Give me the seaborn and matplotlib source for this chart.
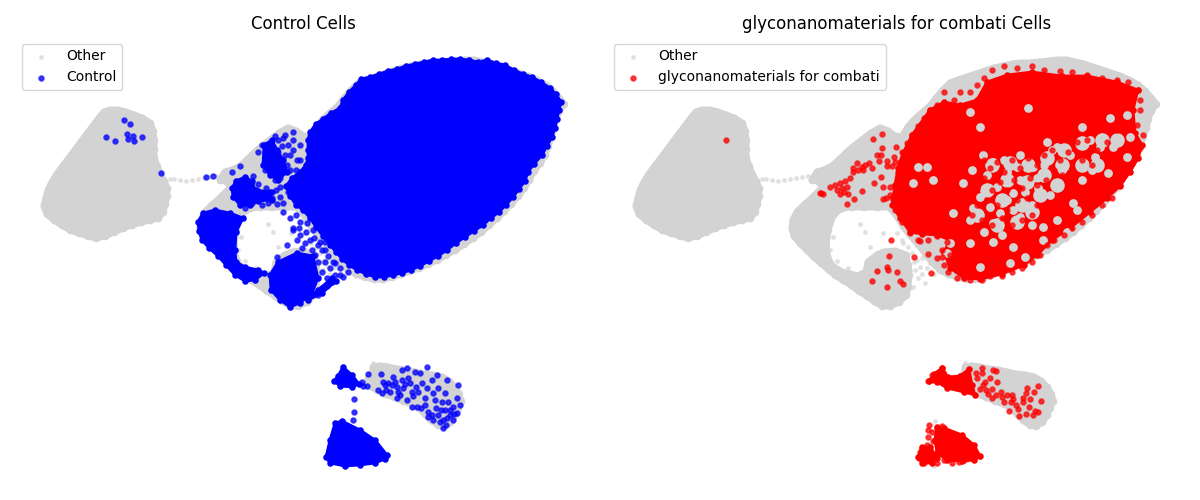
import numpy as np
import matplotlib
matplotlib.use("Agg")
import matplotlib.pyplot as plt
import seaborn as sns

TITLES = ["Control Cells", "glyconanomaterials for combati Cells"]
LABELS = ["Control", "glyconanomaterials for combati"]

# Embedding coordinates: outlines of the dense clouds, then single cells
other_island = [(110,110),(118,110),(126,112),(134,115),(142,118),(150,123),(153,131),(154,140),(154,149),(154,158),(157,166),
 (160,174),(164,181),(167,188),(167,196),(165,204),(163,212),(158,218),(150,220),(141,222),(132,225),(123,228),(114,232),
 (105,236),(96,238),(88,236),(79,233),(70,230),(62,225),(54,220),(47,214),(44,206),(46,198),(48,190),(52,182),(57,174),
 (63,166),(69,158),(75,150),(81,142),(87,134),(93,126),(99,118),(104,112)]

other_main = [(225,172),(232,170),(240,166),(247,160),(254,153),(262,146),(270,140),(279,133),(288,128),(296,131),(303,136),(310,137),
 (316,127),(322,120),(330,113),(338,106),(345,97),(351,90),(358,83),(366,80),(375,77),(384,74),(393,71),(402,68),(411,66),
 (420,64),(429,63),(438,63),(447,62),(456,61),(465,60),(474,60),(483,62),(492,64),(501,67),(510,70),(519,73),(528,76),
 (537,80),(546,85),(553,91),(559,98),(564,104),(559,111),(556,119),(554,128),(551,137),(548,146),(545,155),(540,163),
 (534,171),(529,180),(524,188),(518,196),(511,204),(504,211),(497,218),(489,225),(481,232),(473,238),(464,244),(455,250),
 (446,255),(437,260),(428,264),(419,268),(410,271),(401,274),(392,277),(383,279),(374,279),(365,277),(356,274),(348,270),
 (340,262),(333,253),(326,244),(318,235),(311,226),(305,216),(297,207),(285,207),(272,207),(260,207),(250,208),(241,215),
 (236,230),(234,245),(235,256),(240,266),(250,272),(258,274),(266,276),(274,272),(276,262),(285,255),(292,252),(303,251),
 (314,255),(316,265),(317,275),(316,287),(314,295),(307,302),(298,306),(290,306),(282,301),(275,296),(267,291),(259,285),
 (251,280),(243,275),(236,269),(229,263),(222,257),(215,250),(208,243),(202,236),(200,228),(201,220),(205,212),(212,205),
 (219,199),(225,193),(231,187),(226,181),(220,180)]

other_banana = [(373,367),(380,366),(388,367),(397,369),(406,370),(415,372),(424,374),(433,375),(442,377),(449,381),(455,387),(459,394),
 (461,401),(458,408),(455,415),(450,422),(444,426),(438,425),(431,420),(425,414),(419,408),(412,404),(403,401),(394,397),
 (385,394),(377,390),(370,386),(368,378),(373,372)]

other_sparse = [(170,179),(174,179),(180,180),(186,181),(192,180),(198,179),(204,178),(210,177),(216,176),(222,176),
 (268,224),(273,232),(291,233),(278,247),(241,237),(238,250),(245,261),(256,268),(305,233),(310,240),(323,270),(326,278),
 (321,287),(333,283),(315,260),(320,253),(325,260),(328,267),(338,263),(316,247),(311,243),(343,421),(342,466),(376,460),(373,363),
 (330,258),(335,268),(342,274),(322,262),(330,274),(318,270)]

control_ellipse = [(308,140),(310,132),(316,124),(323,119),(331,113),(340,108),(343,100),(349,92),(356,85),(361,79),(370,77),(379,74),
 (388,71),(397,69),(406,66),(415,64),(424,62),(433,60),(442,60),(451,59),(460,59),(469,60),(478,62),(487,60),(496,63),
 (505,65),(514,70),(523,74),(532,77),(541,82),(550,88),(556,94),(561,102),(559,110),(557,119),(555,128),(552,137),(547,146),
 (542,155),(534,164),(528,172),(525,181),(519,189),(513,197),(506,205),(499,212),(491,218),(483,225),(474,231),(465,237),
 (456,243),(447,250),(438,256),(429,261),(420,266),(411,270),(402,273),(393,275),(384,277),(375,277),(366,274),(357,270),
 (349,265),(342,259),(336,252),(330,245),(323,236),(316,227),(310,218),(303,210),(296,205),(290,196),(286,186),(292,178),
 (300,172),(306,165),(308,158),(308,150)]
control_crescent = [(203,213),(215,210),(230,213),(243,218),(236,232),(235,250),(236,262),(245,267),(258,270),(264,273),(255,280),
 (245,281),(235,275),(226,265),(218,256),(209,248),(202,240),(199,231),(198,222)]
control_upper = [(236,181),(245,177),(252,181),(255,190),(270,192),(272,200),(258,201),(250,205),(240,205),(233,197),(232,188)]
control_second = [(264,145),(272,140),(277,150),(283,160),(287,172),(278,180),(270,175),(263,165)]
control_lobe = [(270,275),(278,262),(297,253),(313,256),(318,278),(312,293),(300,303),(290,307),(280,300),(271,290)]
control_tail = [(318,290),(332,278),(336,281),(322,293),(308,300)]
control_wedge = [(343,367),(352,375),(359,384),(352,387),(340,386),(334,381),(338,376)]
control_bottom = [(335,423),(342,421),(360,430),(375,440),(387,455),(385,459),(375,463),(360,465),(345,466),(330,463),(326,457),(330,440)]

control_dots = [(124,120),(130,124),(106,137),(115,141),(127,134),(128,139),(133,136),(134,141),(142,137),(161,173),(206,177),(213,176),
 (232,172),(240,166),(257,190),(262,197),(267,195),(272,198),(258,200),(266,188),(272,192),(252,203),(245,208),(266,150),
 (270,145),(278,140),(285,135),(288,145),(285,155),(293,150),(283,170),(280,178),(275,175),(265,170),(258,152),(262,145),
 (287,165),(293,140),(293,132),(275,180),(322,290),(327,286),(332,282),(318,295),(308,262),(293,230),(300,235),(310,240),
 (322,250),(315,255),(305,243),(325,262),(318,245),(340,275),(343,277),(333,262),(328,256),(287,245),(297,240),(300,222),
 (307,223),(313,230),(293,228),(277,257),(283,203),(280,187),(278,152),(290,170),(297,160),(300,145),(300,180),
 (368,374),(381,374),(393,377),(383,382),(362,382),(363,386),(367,386),(378,390),(382,393),(388,383),(390,392),(397,387),
 (402,370),(407,368),(402,380),(408,378),(403,388),(412,392),(397,398),(407,400),(415,372),(420,373),(427,367),(422,383),
 (418,392),(427,388),(432,380),(437,375),(447,380),(458,385),(438,388),(445,393),(433,393),(425,398),(435,400),(442,402),
 (448,402),(457,398),(460,405),(453,407),(445,410),(450,415),(453,420),(443,420),(443,428),(438,415),(433,420),(428,412),
 (428,417),(412,407),(417,407),(421,408),(410,383),(416,387),(425,405),(440,422),(447,418),(457,413),(385,385),(400,395),
 (354,399),(354,412),(353,420),(392,385),(398,392),(405,384),(413,396),(386,390),(395,382),(441,410),(436,408),(450,410),
 (454,414),(446,425),(432,415),(276,190),(280,197),(288,192),(262,205),(268,203),(277,204),(283,212),(290,218),(296,215),
 (299,228),(306,232),(314,238),(320,242),(302,248),(312,250),(325,250),(330,268),(322,272),(335,275),(327,278),(318,262),
 (325,242),(335,263),(340,268),(348,272),(253,176),(258,184),(282,146),(290,155),(296,170),(300,160),(283,138),(275,136)]

combati_mass = [(311,153),(320,135),(338,110),(352,102),(368,105),(385,100),(395,82),(415,75),(440,72),(470,76),(495,76),(525,82),
 (546,90),(541,110),(543,133),(550,145),(546,158),(538,172),(528,186),(515,198),(498,212),(478,228),(460,240),(445,255),
 (432,265),(410,274),(388,279),(372,278),(358,268),(352,252),(358,240),(345,235),(330,234),(318,232),(308,218),(300,205),
 (303,185),(306,168)]
combati_wedge = [(350,368),(356,377),(368,376),(377,369),(380,385),(383,395),(372,392),(355,388),(345,382),(337,381),(342,374)]
combati_bottom = [(345,427),(352,428),(370,435),(382,445),(388,456),(382,460),(370,461),(355,460),(345,453),(343,440)]
combati_foot = [(330,447),(338,447),(345,458),(340,463),(330,463),(326,457)]

# Uncovered patches inside the red cloud, where the grey cells stay visible
combati_gaps = [(378,112),(388,127),(436,108),(518,118),(535,115),(538,137),(521,147),(516,173),(503,157),(478,155),(465,147),(455,142),
 (441,167),(428,155),(401,162),(391,155),(415,172),(428,180),(405,187),(421,193),(433,192),(446,188),(398,207),(378,220),
 (381,208),(361,213),(371,183),(388,197),(408,213),(421,210),(401,223),(428,217),(451,227),(465,220),(481,203),(485,210),
 (475,232),(451,240),(421,247),(401,242),(378,243),(358,243),(355,253),(335,167),(321,183),(341,180),(326,167),(418,263),
 (433,257),(388,267),(490,127),(498,140),(508,147),(535,157),(412,160),(452,165),(470,170),(440,205),(395,175),(380,170),
 (458,195),(415,200),(392,232),(410,235),(440,225),(500,170),(490,180),(460,150),(445,178),(425,167)]
combati_wide_gaps = [(400,165),(418,163),(436,165),(455,158),(472,150),(490,143),(510,140),(525,140),(415,180),(435,182),(452,175),
 (470,165),(395,190),(410,200),(430,205),(448,195),(385,215),(405,225),(425,222),(440,212),(465,185),(490,165),(505,165)]

combati_dots = [(392,160),(398,168),(405,162),(412,172),(420,160),(428,168),(436,158),(445,165),(452,155),(460,150),(468,160),(476,152),
 (485,142),(495,140),(505,150),(515,142),(525,130),(535,125),(500,165),(490,160),(480,172),(470,175),(462,170),(454,180),
 (445,185),(438,178),(430,188),(422,180),(415,190),(408,182),(400,190),(392,178),(385,188),(378,196),(385,205),(395,200),
 (405,205),(415,210),(425,200),(435,198),(445,205),(440,215),(430,220),(420,225),(410,218),(400,225),(390,220),(380,215),
 (372,210),(368,225),(375,235),(362,235),(355,242),(350,250),(345,258),(358,255),(352,265),(356,272),(365,278),(378,280),
 (390,280),(398,276),(410,276),(420,272),(430,268),(440,262),(448,255),(455,245),(462,240),(472,235),(480,228),(490,222),
 (500,215),(510,205),(520,198),(528,185),(535,172),(542,160),(548,148),(551,135),(545,125),(548,110),(548,100),(546,90),
 (536,82),(525,80),(510,78),(495,75),(480,72),(468,71),(452,70),(440,66),(425,68),(412,66),(400,70),(392,78),(385,85),
 (378,92),(368,92),(352,92),(362,100),(368,108),(345,105),(338,110),(332,118),(326,126),(320,135),(315,143),(310,152),
 (308,162),(306,172),(303,185),(300,198),(303,210),(310,222),(318,233),(326,240),(336,240),(345,236),
 (281,139),(290,134),(290,148),(304,147),(289,155),(285,155),(302,157),(287,161),(295,161),(295,166),(300,166),(303,162),
 (280,168),(277,163),(273,165),(270,167),(265,163),(261,168),(266,170),(261,172),(271,170),(289,177),(282,183),(291,187),
 (298,187),(270,191),(262,199),(255,204),(291,199),(294,198),(298,195),
 (238,187),(243,185),(248,183),(253,181),(258,178),(245,190),(250,188),(255,187),(252,192),(256,194),(248,194),(229,193),
 (228,193),(231,194),(299,240),(297,256),(295,267),(296,270),(285,271),(305,272),(280,281),(308,281),(311,284),(295,287),
 (322,257),(336,254),(328,241),(339,273),(350,257),(134,140),
 (350,368),(340,375),(336,381),(341,380),(346,373),(351,373),(384,373),(390,368),(385,378),(390,373),(401,370),(404,371),(398,378),(393,382),(391,385),
 (405,382),(388,389),(394,390),(400,389),(396,394),(404,395),(400,398),(409,392),(410,397),(415,395),(420,395),(421,399),
 (412,402),(419,402),(424,405),(417,411),(426,409),(427,416),(431,398),(434,393),(435,388),(442,392),(446,386),(449,401),
 (438,399),(431,402),(437,407),(434,414),(441,415),(446,412),(443,411),
 (337,425),(336,430),(345,428),(350,426),(340,432),(345,435),(372,440),(378,447),(382,452),(387,456),(380,458),(373,455),
 (372,460),(362,458),(355,455),(352,460),(360,463),(367,462),(345,452),(330,448),(332,455),(327,458),(335,460),(340,455),
 (332,463),(328,452),(338,450),(343,458),(345,463),(335,445),(341,441),(336,437)]


def draw(ax, points, color, size, width=0.0, alpha=1.0, label=None):
    xy = np.array(points, dtype=float)
    sns.scatterplot(x=xy[:, 0], y=xy[:, 1], ax=ax, color=color, s=size, linewidth=width,
                    edgecolor=color, alpha=alpha, label=label, legend=False)


def cloud(ax, outline, color, stroke, size, width):
    xy = np.array(outline, dtype=float)
    ax.fill(xy[:, 0], xy[:, 1], color=color, linewidth=stroke, joinstyle="round")
    draw(ax, outline, color, size, width=width)


fig = plt.figure(figsize=(12, 5), dpi=100)
ax_left = fig.add_axes([15 / 1200, 1 - 485 / 500, 576 / 1200, 448 / 500])
ax_right = fig.add_axes([607 / 1200, 1 - 485 / 500, 580 / 1200, 448 / 500])

panels = [
    (ax_left, "blue", LABELS[0], TITLES[0],
     [control_ellipse, control_crescent, control_upper, control_second, control_lobe, control_tail, control_wedge, control_bottom],
     None, control_dots, (15, 591)),
    (ax_right, "red", LABELS[1], TITLES[1],
     [combati_mass, combati_wedge, combati_bottom, combati_foot],
     combati_gaps, combati_dots, (15, 595)),
]

for ax, color, label, title, clouds, gaps, dots, xlim in panels:
    for outline in (other_island, other_main, other_banana):
        cloud(ax, outline, "lightgray", 5, 30, 0.0)
    draw(ax, other_sparse, "lightgray", 5, width=1.5, alpha=0.5, label="Other")
    for outline in clouds:
        cloud(ax, outline, color, 2, 10, 1.5)
    if gaps is not None:
        draw(ax, combati_wide_gaps, "lightgray", 110)
        draw(ax, gaps, "lightgray", 40)
    draw(ax, dots, color, 10, width=1.5, alpha=0.7, label=label)
    ax.set_xlim(*xlim)
    ax.set_ylim(485, 37)
    ax.set_title(title, fontsize=12)
    ax.legend(loc="upper left")
    ax.set_axis_off()

fig.savefig("out.png", dpi=100)
